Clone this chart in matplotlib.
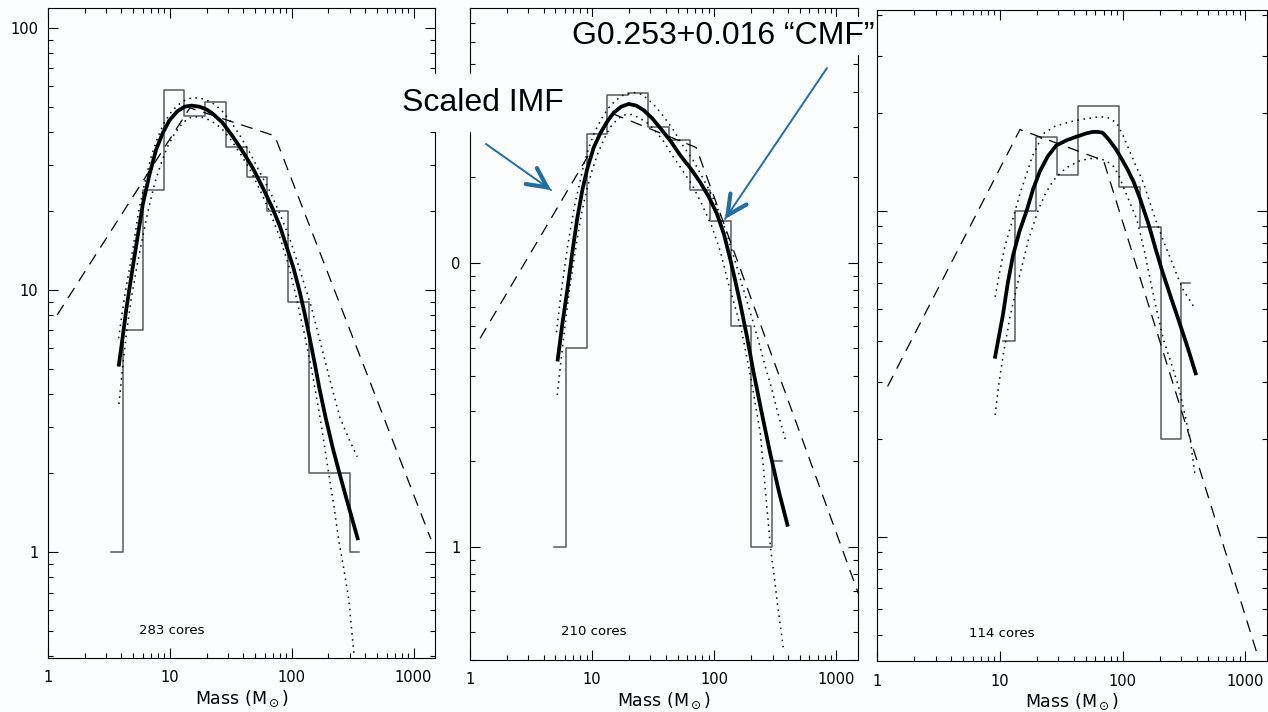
import numpy as np
import matplotlib
matplotlib.use("Agg")
import matplotlib.pyplot as plt
from matplotlib.patches import FancyArrowPatch
from matplotlib.ticker import FixedLocator, LogLocator, NullFormatter

# ---- values (mass in Msun, cores per bin) ----
# left panel: 283 cores
hist1_mass = [3.3, 4.9, 7.2, 10.6, 15.7, 23.3, 34.4, 51.0, 75.4, 111.5, 165.0, 243.0, 354.0]
hist1_n = [1, 7, 24, 58, 46, 52, 35, 27, 20, 9, 2, 2, 1]
fit1_mass = [3.8, 4.1, 4.4, 5.0, 6.0, 6.8, 7.7, 8.7, 9.9, 11.5, 13.2, 15.0, 17.5, 20.0, 22.5,
             27.0, 32.8, 40.0, 47.9, 58.0, 69.8, 80.0, 90.0, 103, 116, 128, 140, 155, 169,
             190, 217, 245, 279, 351]
fit1_n = [5.1, 6.6, 8.5, 12.5, 21.2, 27.5, 34.2, 39.5, 44.3, 48.0, 50.0, 50.5, 50.0, 48.8, 47.0,
          43.5, 38.5, 33.5, 29.2, 24.5, 20.4, 17.5, 14.8, 12.2, 9.9, 8.1, 6.6, 5.2, 4.2,
          3.25, 2.5, 2.02, 1.62, 1.11]
hi1_mass = [3.80, 4.06, 4.25, 4.47, 5.0, 5.5, 6.2, 7.0, 8.0, 9.0, 10.2, 11.5, 13.2, 15.0, 17.5,
            20.0, 23.5, 27.0, 32.0, 38.0, 46.0, 55.0, 67.0, 80.0, 95.0, 110.0, 127.0, 145.0,
            165.0, 187.0, 215.0, 249.0, 295.0, 345.0]
hi1_n = [6.54, 8.15, 9.43, 10.8, 14.5, 19.5, 25.5, 32.0, 38.5, 43.5, 47.5, 50.5, 52.8, 54.0, 54.0,
         53.0, 51.0, 48.0, 43.5, 38.5, 33.0, 28.0, 23.5, 19.5, 16.0, 13.0, 10.5, 8.6,
         6.8, 5.4, 4.2, 3.25, 2.7, 2.31]
lo1_mass = [3.82, 4.14, 4.44, 4.85, 5.4, 6.0, 6.7, 7.5, 8.5, 9.5, 10.7, 12.0, 13.5, 15.0, 17.5,
            20.0, 23.5, 27.0, 32.0, 38.0, 46.0, 55.0, 67.0, 80.0, 95.0, 110.0, 127.0, 146.0,
            172.0, 201.0, 222.0, 243.0, 268.0, 294.0, 324.0]
lo1_n = [3.67, 5.33, 7.04, 9.43, 12.5, 16.0, 20.5, 25.5, 30.5, 35.0, 38.8, 42.0, 44.3, 45.6, 45.8,
         45.0, 43.2, 41.0, 37.2, 33.0, 28.5, 24.0, 19.6, 15.8, 12.3, 9.2, 6.8, 4.95,
         3.2, 2.0, 1.5, 1.11, 0.86, 0.66, 0.41]
imf1_mass = [1.19, 14.6, 72.6, 1387]
imf1_n = [8.03, 49.5, 38.7, 1.12]

# middle panel: 210 cores
hist2_mass = [4.9, 7.3, 10.8, 15.9, 23.4, 34.4, 50.7, 74.6, 110, 162, 240, 355]
hist2_n = [1, 5.0, 28.5, 39.1, 39.6, 30.2, 27.0, 18.1, 14.0, 6.0, 1.0, 2.0]
fit2_mass = [5.2, 5.7, 6.25, 6.9, 7.54, 8.3, 9.1, 10.3, 11.7, 13.3, 15.0, 17.3, 19.9, 23.0,
             26.4, 31.0, 36.2, 44.0, 52.7, 64.0, 76.8, 90.0, 105, 120, 135, 148, 163, 185,
             210, 245, 287, 340, 400]
fit2_n = [4.5, 6.1, 8.0, 11.0, 14.3, 18.0, 21.4, 25.5, 28.7, 31.5, 33.8, 35.5, 36.3, 35.8,
          34.5, 32.3, 29.8, 26.8, 23.9, 21.5, 19.2, 17.1, 14.9, 12.6, 10.3, 8.7, 7.2, 5.5,
          4.1, 2.95, 2.13, 1.55, 1.18]
hi2_mass = [5.1, 5.6, 6.3, 7.2, 8.5, 9.4, 10.5, 12.0, 13.5, 15.5, 18.0, 22.0, 25.0, 28.0, 32.5,
            38.0, 46.0, 55.0, 67.0, 80.0, 95.0, 110.0, 125.0, 140.0, 163.0, 191.0, 225.0,
            262.0, 295.0, 326.0, 385.0]
hi2_n = [5.7, 8.0, 11.5, 16.0, 22.0, 25.5, 29.0, 32.3, 35.0, 37.3, 39.0, 39.8, 39.3, 38.0, 35.8,
         33.0, 29.5, 26.0, 23.0, 20.0, 17.4, 15.0, 12.9, 11.0, 8.8, 7.0, 5.5,
         4.3, 3.6, 3.04, 2.35]
lo2_mass = [5.18, 5.7, 6.5, 7.5, 8.2, 9.0, 10.0, 11.0, 12.5, 14.0, 16.0, 18.0, 21.0, 24.0, 28.0,
            32.0, 38.0, 45.0, 54.0, 65.0, 78.0, 95.0, 112.0, 130.0, 148.0, 169.0, 200.0,
            238.0, 262.0, 288.0, 310.0, 330.0, 369.0]
lo2_n = [3.43, 5.0, 8.0, 12.0, 15.0, 18.0, 21.2, 24.0, 27.3, 30.0, 32.0, 33.2, 33.3, 32.5, 31.2,
         29.5, 27.0, 24.0, 21.4, 19.0, 16.3, 13.5, 11.0, 8.5, 7.0, 5.65, 3.9,
         2.51, 1.58, 1.0, 0.78, 0.62, 0.434]
imf2_mass = [1.21, 14.8, 71, 1510]
imf2_n = [5.43, 33.5, 25.5, 0.686]

# right panel: 114 cores
hist3_mass = [10.7, 16.0, 23.5, 34.7, 51.5, 76.0, 112.0, 166.0, 245.0, 354.0]
hist3_n = [4.0, 10.0, 16.9, 12.9, 21.0, 21.0, 11.9, 8.96, 2.0, 6.0]
fit3_mass = [9.1, 9.8, 10.6, 11.6, 12.8, 14.5, 16.5, 18.7, 21.1, 24.5, 28.8, 35.0, 41.8, 50.0,
             57.1, 63.0, 68.8, 77.0, 88.2, 100, 110, 123, 139, 163, 185, 209, 245, 286, 340, 398]
fit3_n = [3.53, 4.1, 4.8, 6.0, 7.3, 8.7, 10.0, 11.7, 13.2, 14.7, 15.9, 16.5, 16.9, 17.3,
          17.5, 17.5, 17.4, 16.6, 15.5, 14.3, 13.4, 12.3, 10.9, 9.1, 7.7, 6.6, 5.5, 4.63, 3.8, 3.14]
hi3_mass = [9.16, 10.05, 11.0, 12.5, 14.6, 15.6, 18.5, 22.7, 28.0, 37.4, 50.0, 65.7, 78.0, 89.8,
            100, 110, 123, 148, 170, 190, 215, 244, 280, 314, 350, 385]
hi3_n = [5.46, 6.6, 7.8, 9.2, 11.3, 12.2, 14.8, 17.3, 18.2, 18.8, 19.2, 19.5, 19.3, 18.6,
         17.2, 15.8, 14.3, 12.2, 10.4, 9.2, 8.1, 7.2, 6.3, 5.7, 5.35, 5.05]
lo3_mass = [9.16, 9.75, 10.7, 12.1, 14.2, 17.1, 20.6, 23.5, 26.5, 29.2, 35.0, 45.1, 55.0, 65.7,
            75.0, 84.4, 93.0, 102, 115, 131, 150, 168, 190, 216, 250, 286, 320, 356, 391]
lo3_n = [2.37, 2.89, 3.66, 4.74, 6.15, 8.15, 10.1, 11.3, 12.2, 12.8, 13.6, 14.3, 14.5, 14.5,
         14.2, 13.7, 12.9, 11.8, 10.6, 9.4, 7.6, 6.15, 4.95, 4.02, 3.4, 2.89, 2.4, 1.99, 1.53]
imf3_mass = [1.22, 14.6, 70, 1244]
imf3_n = [2.9, 17.8, 14.3, 0.44]

core_counts = ["283 cores", "210 cores", "114 cores"]
x_ticks = [1, 10, 100, 1000]
x_ticklabels = ["1", "10", "100", "1000"]

W, H = 1268, 712
BG = "#fcfdff"
BLUE = "#1f6ea8"


def px_box(left, top, right, bottom):
    return [left / W, 1 - bottom / H, (right - left) / W, (bottom - top) / H]


def fig_xy(x, y):
    return (x / W, 1 - y / H)


def style_panel(ax, ylim, yticks, yticklabels, label):
    ax.set_xscale("log")
    ax.set_yscale("log")
    ax.set_xlim(1, 1500)
    ax.set_ylim(*ylim)
    ax.set_facecolor(BG)
    ax.xaxis.set_major_locator(FixedLocator(x_ticks))
    ax.set_xticklabels(x_ticklabels)
    ax.yaxis.set_major_locator(FixedLocator(yticks))
    ax.set_yticklabels(yticklabels)
    for axis in (ax.xaxis, ax.yaxis):
        axis.set_minor_locator(LogLocator(base=10, subs=np.arange(2, 10)))
        axis.set_minor_formatter(NullFormatter())
    ax.tick_params(which="both", direction="in", top=True, right=True,
                   width=0.8, colors="black")
    ax.tick_params(which="major", length=7)
    ax.tick_params(which="minor", length=3.6)
    ax.tick_params(axis="x", which="major", pad=9, labelsize=10.5)
    ax.tick_params(axis="y", which="major", pad=7, labelsize=10.5)
    for sp in ax.spines.values():
        sp.set_linewidth(0.8)
    ax.set_xlabel(r"Mass (M$_\odot$)", fontsize=12.5, labelpad=2)
    ax.text(0.32, 0.043, label, transform=ax.transAxes, ha="center",
            va="center", fontsize=9.5)


def draw_panel(ax, hm, hn, fm, fn, um, un, lm, ln, im, inn):
    ax.step(hm, hn, where="mid", color="#5a5a5a", lw=1.1)
    ax.plot(im, inn, color="black", lw=0.9, ls=(0, (9.5, 6.5)))
    ax.plot(um, un, color="black", lw=1.1, ls=(0, (1, 3)))
    ax.plot(lm, ln, color="black", lw=1.1, ls=(0, (1, 3)))
    ax.plot(fm, fn, color="black", lw=2.7, solid_capstyle="butt",
            solid_joinstyle="round")


def blue_arrow(fig, tail, tip):
    tx, ty = tail
    hx, hy = tip
    fig.add_artist(FancyArrowPatch(fig_xy(tx, ty), fig_xy(hx, hy),
                                   transform=fig.transFigure, arrowstyle="-",
                                   lw=1.4, color=BLUE, shrinkA=0, shrinkB=0))
    d = np.array([hx - tx, hy - ty], dtype=float)
    d /= np.hypot(*d)
    bx, by = hx - 6 * d[0], hy - 6 * d[1]
    fig.add_artist(FancyArrowPatch(fig_xy(bx, by), fig_xy(hx, hy),
                                   transform=fig.transFigure,
                                   arrowstyle="->,head_length=1.4,head_width=0.7",
                                   mutation_scale=10, lw=3, color=BLUE,
                                   shrinkA=0, shrinkB=0))


fig = plt.figure(figsize=(W / 100, H / 100), dpi=100, facecolor=BG)
ax1 = fig.add_axes(px_box(48, 8, 435, 658))
ax2 = fig.add_axes(px_box(470, 8, 858, 660))
ax3 = fig.add_axes(px_box(877, 10, 1267, 661))

draw_panel(ax1, hist1_mass, hist1_n, fit1_mass, fit1_n, hi1_mass, hi1_n,
           lo1_mass, lo1_n, imf1_mass, imf1_n)
draw_panel(ax2, hist2_mass, hist2_n, fit2_mass, fit2_n, hi2_mass, hi2_n,
           lo2_mass, lo2_n, imf2_mass, imf2_n)
draw_panel(ax3, hist3_mass, hist3_n, fit3_mass, fit3_n, hi3_mass, hi3_n,
           lo3_mass, lo3_n, imf3_mass, imf3_n)

style_panel(ax1, (0.394, 119), [1, 10, 100], ["1", "10", "100"], core_counts[0])
style_panel(ax2, (0.40, 79), [1, 10], ["1", "0"], core_counts[1])
style_panel(ax3, (0.417, 41.4), [1, 10], ["", ""], core_counts[2])

# right panel sits on top of the CMF caption
ax3.set_zorder(5)

fig.text(*fig_xy(402, 103), "Scaled IMF", fontsize=23, family="Liberation Sans",
         ha="left", va="center",
         bbox=dict(boxstyle="square,pad=0.45", fc=BG, ec="none"))
fig.text(*fig_xy(572, 36), "G0.253+0.016 \u201cCMF\u201d", fontsize=23,
         family="Liberation Sans", ha="left", va="center",
         bbox=dict(boxstyle="square,pad=0.12", fc=BG, ec="none"))

blue_arrow(fig, (486, 144), (551, 190))
blue_arrow(fig, (827, 68), (725, 219))

fig.savefig("out.png", dpi=100, facecolor=BG)
